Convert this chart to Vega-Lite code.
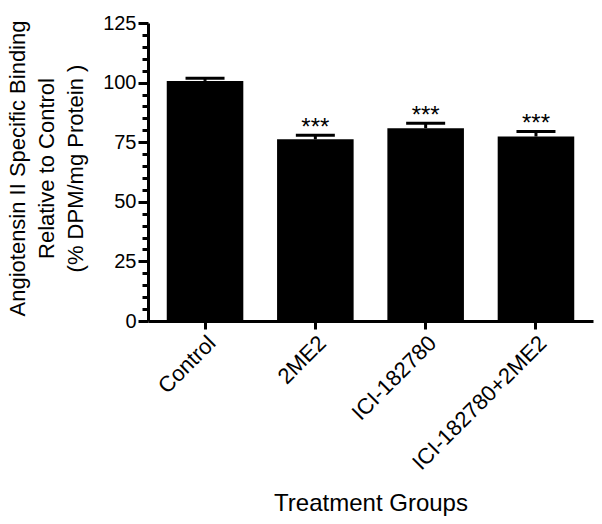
{
  "$schema": "https://vega.github.io/schema/vega-lite/v6.json",
  "width": 445,
  "height": 298,
  "autosize": "none",
  "padding": {"left": 148, "top": 23, "right": 9, "bottom": 203},
  "background": "white",
  "config": {
    "view": {"stroke": null},
    "font": "Liberation Sans",
    "axis": {
      "domainColor": "black",
      "domainWidth": 3,
      "tickColor": "black",
      "tickWidth": 3,
      "labelColor": "black",
      "titleColor": "black",
      "titleFontWeight": "normal",
      "grid": false
    },
    "axisY": {
      "labelFontSize": 20,
      "labelPadding": 2,
      "labelOverlap": false,
      "titleFontSize": 22
    }
  },
  "data": {
    "values": [
      {"group": "Control", "mean": 100.7, "upper": 101.8, "sig": ""},
      {"group": "2ME2", "mean": 76.2, "upper": 77.9, "sig": "***"},
      {"group": "ICI-182780", "mean": 80.9, "upper": 82.9, "sig": "***"},
      {"group": "ICI-182780+2ME2", "mean": 77.4, "upper": 79.5, "sig": "***"}
    ]
  },
  "encoding": {
    "x": {
      "field": "group",
      "type": "nominal",
      "sort": null,
      "scale": {"paddingInner": 0.306, "paddingOuter": 0.17},
      "axis": {
        "labelAngle": -45,
        "labelAlign": "right",
        "labelBaseline": "top",
        "labelFontSize": 22,
        "labelPadding": 3,
        "tickSize": 8,
        "title": "Treatment Groups",
        "titleFontSize": 24,
        "titleY": 182,
        "titleBaseline": "middle"
      }
    }
  },
  "layer": [
    {
      "mark": {"type": "bar", "color": "black", "opacity": 1},
      "encoding": {
        "y": {
          "field": "mean",
          "type": "quantitative",
          "scale": {"domain": [0, 125], "nice": false},
          "axis": {
            "values": [0, 5, 10, 15, 20, 25, 30, 35, 40, 45, 50, 55, 60, 65, 70, 75, 80, 85, 90, 95, 100, 105, 110, 115, 120, 125],
            "labelExpr": "datum.value % 25 === 0 ? datum.label : ''",
            "tickSize": {"condition": {"test": "datum.value % 25 === 0", "value": 10}, "value": 6},
            "title": ["Angiotensin II Specific Binding", "Relative to Control", "(% DPM/mg Protein )"],
            "titleAngle": -90,
            "titleAlign": "center",
            "titleBaseline": "top",
            "titleLineHeight": 29,
            "titleX": -141,
            "titleY": 145
          }
        }
      }
    },
    {
      "mark": {"type": "rule", "color": "black", "strokeWidth": 3},
      "encoding": {
        "y": {
          "field": "mean",
          "type": "quantitative",
          "axis": {
            "values": [0, 5, 10, 15, 20, 25, 30, 35, 40, 45, 50, 55, 60, 65, 70, 75, 80, 85, 90, 95, 100, 105, 110, 115, 120, 125],
            "labelExpr": "datum.value % 25 === 0 ? datum.label : ''",
            "tickSize": {"condition": {"test": "datum.value % 25 === 0", "value": 10}, "value": 6},
            "title": ["Angiotensin II Specific Binding", "Relative to Control", "(% DPM/mg Protein )"],
            "titleAngle": -90,
            "titleAlign": "center",
            "titleBaseline": "top",
            "titleLineHeight": 29,
            "titleX": -141,
            "titleY": 145
          }
        },
        "y2": {"field": "upper"}
      }
    },
    {
      "mark": {"type": "tick", "color": "black", "thickness": 3, "size": 39, "opacity": 1},
      "encoding": {
        "y": {
          "field": "upper",
          "type": "quantitative",
          "axis": {
            "values": [0, 5, 10, 15, 20, 25, 30, 35, 40, 45, 50, 55, 60, 65, 70, 75, 80, 85, 90, 95, 100, 105, 110, 115, 120, 125],
            "labelExpr": "datum.value % 25 === 0 ? datum.label : ''",
            "tickSize": {"condition": {"test": "datum.value % 25 === 0", "value": 10}, "value": 6},
            "title": ["Angiotensin II Specific Binding", "Relative to Control", "(% DPM/mg Protein )"],
            "titleAngle": -90,
            "titleAlign": "center",
            "titleBaseline": "top",
            "titleLineHeight": 29,
            "titleX": -141,
            "titleY": 145
          }
        }
      }
    },
    {
      "mark": {"type": "text", "baseline": "alphabetic", "dy": 0, "fontSize": 24, "color": "black"},
      "encoding": {
        "y": {
          "field": "upper",
          "type": "quantitative",
          "axis": {
            "values": [0, 5, 10, 15, 20, 25, 30, 35, 40, 45, 50, 55, 60, 65, 70, 75, 80, 85, 90, 95, 100, 105, 110, 115, 120, 125],
            "labelExpr": "datum.value % 25 === 0 ? datum.label : ''",
            "tickSize": {"condition": {"test": "datum.value % 25 === 0", "value": 10}, "value": 6},
            "title": ["Angiotensin II Specific Binding", "Relative to Control", "(% DPM/mg Protein )"],
            "titleAngle": -90,
            "titleAlign": "center",
            "titleBaseline": "top",
            "titleLineHeight": 29,
            "titleX": -141,
            "titleY": 145
          }
        },
        "text": {"field": "sig"}
      }
    }
  ]
}
